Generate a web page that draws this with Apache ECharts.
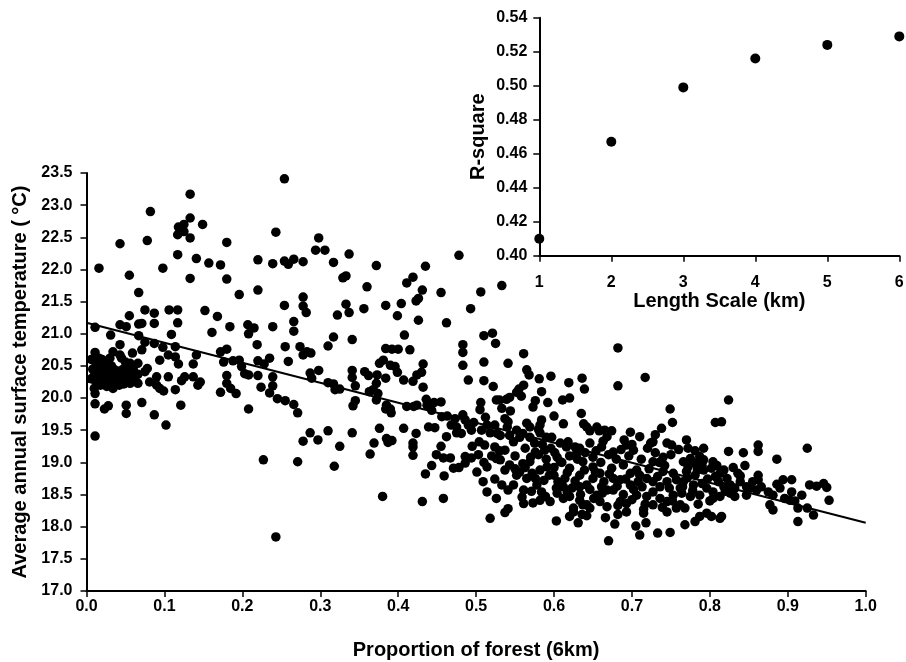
<!DOCTYPE html>
<html>
<head>
<meta charset="utf-8">
<script src="https://cdn.jsdelivr.net/npm/echarts@6/dist/echarts.min.js"></script>
<style>html,body{margin:0;padding:0;background:#fff}#c{width:906px;height:662px}</style>
</head>
<body>
<div id="c"></div>
<script>
// ---- data: proportion of forest (6km) vs annual surface temperature (°C) ----
const pointsLowForest = [
[0.133,23.17],[0.082,22.90],[0.133,22.80],[0.149,22.70],[0.125,22.70],[0.118,22.66],[0.125,22.59],[0.117,22.54],[0.133,22.49],[0.078,22.45],[0.043,22.40],[0.180,22.42],[0.243,22.58],[0.117,22.23],[0.141,22.17],[0.157,22.10],[0.172,22.07],[0.220,22.15],[0.239,22.09],[0.016,22.02],[0.055,21.91],[0.098,22.02],[0.133,21.86],[0.180,21.85],[0.067,21.64],[0.196,21.61],[0.220,21.68],
[0.075,21.37],[0.106,21.37],[0.117,21.37],[0.152,21.36],[0.055,21.28],[0.087,21.32],[0.168,21.27],
[0.011,21.10],[0.043,21.14],[0.051,21.11],[0.067,21.15],[0.071,21.16],[0.087,21.16],[0.117,21.17],[0.031,20.98],[0.067,20.97],[0.109,20.99],[0.161,21.02],[0.184,21.11],[0.207,21.14],[0.215,21.09],[0.208,21.00],[0.239,21.11],
[0.075,20.87],[0.087,20.85],[0.098,20.79],[0.114,20.80],[0.043,20.83],[0.219,20.83],[0.011,20.71],[0.034,20.72],[0.043,20.67],[0.059,20.70],[0.071,20.75],[0.105,20.67],[0.114,20.64],[0.094,20.59],[0.141,20.67],[0.172,20.72],[0.180,20.76],[0.188,20.58],[0.196,20.59],[0.220,20.58],[0.228,20.53],[0.235,20.62],
[0.056,20.54],[0.066,20.54],[0.075,20.41],[0.078,20.46],[0.118,20.53],[0.137,20.53],[0.176,20.56],[0.199,20.49],[0.239,20.33],[0.239,20.19],[0.056,20.33],[0.066,20.37],[0.056,20.23],[0.066,20.23],[0.081,20.25],[0.090,20.33],[0.090,20.20],[0.099,20.11],[0.105,20.33],[0.094,20.15],[0.114,20.13],[0.122,20.27],[0.126,20.33],[0.137,20.33],[0.143,20.20],[0.146,20.25],[0.180,20.35],[0.180,20.23],[0.185,20.15],[0.192,20.07],[0.203,20.38],[0.208,20.36],[0.220,20.35],[0.224,20.17],[0.235,20.08],[0.245,19.99],[0.172,20.09],[0.208,19.83],
[0.011,20.07],[0.011,19.91],[0.023,19.83],[0.028,19.88],[0.051,19.89],[0.051,19.76],[0.071,19.93],[0.087,19.74],[0.121,19.89],[0.102,19.58],[0.011,19.41],
[0.227,19.04],[0.243,17.84],
[0.008,20.45],[0.010,20.35],[0.012,20.25],[0.012,20.55],[0.014,20.40],[0.015,20.30],[0.016,20.50],[0.018,20.20],[0.018,20.42],[0.020,20.60],[0.020,20.33],[0.022,20.47],[0.023,20.27],[0.024,20.38],[0.025,20.55],[0.026,20.18],[0.027,20.44],[0.028,20.32],[0.030,20.62],[0.030,20.24],[0.031,20.40],[0.032,20.50],[0.033,20.30],[0.034,20.15],[0.035,20.45],[0.036,20.36],[0.038,20.25],[0.040,20.42],[0.040,20.33],[0.042,20.20],[0.044,20.28],[0.045,20.62],[0.046,20.38],[0.047,20.45],[0.048,20.22],[0.050,20.32],[0.052,20.48],[0.055,20.40],[0.058,20.28],[0.060,20.45],[0.062,20.36],[0.050,20.56],[0.028,20.52],[0.016,20.62],[0.006,20.30],[0.006,20.60],[0.010,20.15]
];
const pointsMidForest = [
[0.254,23.41],[0.298,22.49],[0.294,22.30],[0.306,22.30],[0.337,22.24],[0.254,22.13],[0.259,22.08],[0.266,22.16],[0.278,22.12],[0.317,22.11],[0.372,22.06],[0.478,22.22],[0.435,22.05],[0.329,21.87],[0.333,21.90],[0.419,21.88],[0.411,21.79],[0.360,21.73],[0.431,21.68],[0.455,21.64],[0.278,21.57],[0.426,21.55],[0.423,21.51],[0.254,21.44],[0.278,21.43],[0.333,21.46],[0.356,21.39],[0.384,21.44],[0.404,21.47],[0.493,21.39],
[0.282,21.33],[0.322,21.29],[0.337,21.33],[0.399,21.28],[0.426,21.21],[0.462,21.17],[0.266,21.19],[0.266,21.04],[0.317,20.95],[0.310,20.81],[0.341,20.91],[0.408,20.98],[0.483,20.83],[0.483,20.71],[0.483,20.51],[0.255,20.80],[0.274,20.80],[0.278,20.67],[0.283,20.72],[0.288,20.70],[0.384,20.77],[0.392,20.76],[0.400,20.76],[0.415,20.75],[0.259,20.57],[0.376,20.54],[0.381,20.59],[0.390,20.51],[0.396,20.49],[0.399,20.40],[0.432,20.53],[0.430,20.40],[0.298,20.43],[0.287,20.39],[0.289,20.31],[0.341,20.43],[0.341,20.32],[0.357,20.41],[0.362,20.35],[0.373,20.36],[0.372,20.23],[0.384,20.31],[0.407,20.28],[0.424,20.36],[0.419,20.26],[0.490,20.28],[0.432,20.17],[0.310,20.24],[0.317,20.22],[0.319,20.13],[0.325,20.14],[0.345,20.19],[0.363,20.10],[0.368,20.13],[0.374,20.07],[0.372,19.97],[0.255,19.96],[0.266,19.90],[0.271,19.77],[0.345,19.96],[0.342,19.88],[0.385,19.89],[0.390,19.83],[0.384,19.83],[0.391,19.77],[0.411,19.87],[0.420,19.87],[0.424,19.89],[0.436,19.98],[0.437,19.89],[0.446,19.93],[0.455,19.94],[0.443,19.81],[0.456,19.71],[0.463,19.72],[0.473,19.68],[0.483,19.74],[0.486,19.66],[0.490,19.58],[0.475,19.55],[0.475,19.46],[0.494,19.50],[0.287,19.46],[0.278,19.33],[0.297,19.35],[0.310,19.49],[0.325,19.25],[0.341,19.46],[0.376,19.53],[0.369,19.30],[0.385,19.37],[0.392,19.34],[0.387,19.31],[0.407,19.53],[0.423,19.45],[0.419,19.30],[0.419,19.24],[0.439,19.55],[0.447,19.54],[0.449,19.12],[0.458,19.07],[0.467,19.07],[0.364,19.13],
[0.271,19.01],[0.318,18.94],[0.419,19.11],[0.486,19.09],[0.494,19.07],[0.443,18.95],[0.435,18.82],[0.459,18.79],[0.471,18.91],[0.478,18.92],[0.486,18.99],[0.380,18.47],[0.431,18.39],[0.458,18.44],
[0.462,19.40],[0.468,19.58],[0.481,19.45],[0.497,19.62],[0.495,19.25],[0.455,19.25]
];
const pointsHighForest = [
[0.506,21.65],[0.533,21.75],[0.503,19.12],[0.501,18.85],[0.504,19.32],
[0.510,20.97],[0.521,21.01],[0.525,20.85],[0.682,20.78],[0.561,20.69],[0.510,20.56],[0.541,20.54],[0.565,20.44],[0.568,20.36],[0.581,20.30],[0.596,20.34],[0.510,20.27],[0.522,20.18],[0.619,20.24],[0.636,20.31],[0.639,20.14],[0.682,20.19],[0.717,20.32],[0.561,20.20],[0.555,20.14],[0.552,20.09],[0.558,20.03],[0.584,20.10],[0.576,19.96],[0.573,19.86],[0.592,19.93],[0.611,19.97],[0.620,20.00],[0.526,19.97],[0.530,19.97],[0.539,19.98],[0.543,20.01],[0.533,19.84],[0.544,19.80],[0.506,19.93],[0.505,19.82],[0.635,19.76],[0.749,19.83],[0.752,19.62],[0.600,19.72],[0.537,19.68],[0.541,19.63],[0.524,19.58],[0.514,19.58],[0.565,19.61],[0.569,19.55],[0.584,19.66],[0.582,19.58],[0.580,19.51],[0.612,19.60],[0.638,19.60],[0.642,19.55],[0.646,19.49],[0.655,19.55],[0.658,19.49],[0.665,19.50],[0.674,19.49],[0.668,19.40],[0.698,19.47],[0.738,19.53],[0.730,19.43],[0.727,19.32],
[0.507,19.50],[0.518,19.46],[0.531,19.42],[0.543,19.42],[0.552,19.50],[0.556,19.39],[0.569,19.39],[0.582,19.46],[0.590,19.39],[0.597,19.39],[0.608,19.30],[0.616,19.24],[0.627,19.24],[0.633,19.22],[0.646,19.30],[0.661,19.24],[0.676,19.16],[0.693,19.27],[0.702,19.19],[0.745,19.30],[0.751,19.27],[0.511,19.27],[0.524,19.24],[0.537,19.19],[0.563,19.22],[0.576,19.16],[0.588,19.19],[0.601,19.15],
[0.518,18.13],[0.537,18.22],[0.541,18.28],[0.561,18.36],[0.573,18.37],[0.603,18.09],[0.631,18.06],[0.620,18.16],[0.625,18.23],[0.636,18.19],[0.642,18.17],[0.646,18.29],[0.637,18.34],[0.666,18.14],[0.678,18.04],[0.670,17.78],[0.682,18.19],[0.682,18.33],[0.693,18.36],[0.693,18.23],[0.705,18.01],[0.710,17.87],[0.718,18.06],[0.715,18.21],[0.715,18.27],[0.733,17.90],[0.749,17.91],[0.509,18.70],[0.524,18.74],[0.533,18.65],[0.541,18.57],[0.514,18.93],[0.526,19.06],[0.537,18.88],
[0.552,18.80],[0.565,18.75],[0.561,18.57],[0.578,18.65],[0.584,18.54],[0.576,18.75],[0.591,18.93],[0.600,18.80],[0.604,18.52],[0.612,18.44],[0.614,18.75],[0.623,18.60],[0.633,18.62],[0.642,18.65],[0.650,18.75],[0.655,18.49],[0.661,18.62],[0.668,18.57],[0.676,18.57],[0.676,18.75],[0.674,18.91],[0.685,18.73],[0.698,18.65],[0.706,18.49],[0.713,18.62],[0.719,18.47],[0.727,18.54],[0.736,18.44],[0.745,18.39],[0.753,18.49],[0.745,18.70],[0.727,18.70],[0.710,18.80],[0.706,18.88],[0.727,19.01],[0.740,18.86],[0.753,18.83],
[0.531,19.04],[0.543,18.96],[0.569,19.01],[0.582,18.88],[0.608,19.01],[0.620,18.91],[0.633,18.80],[0.637,19.01],[0.650,18.93],[0.659,18.83],[0.689,18.96],[0.698,18.83],[0.719,18.75],[0.736,18.62],[0.633,18.41],[0.642,18.34],[0.659,18.39],[0.668,18.31],[0.685,18.39],[0.727,18.34],[0.745,18.23],[0.595,18.39],[0.526,18.44],[0.514,18.54],[0.620,18.47],[0.625,18.29],[0.612,18.62],[0.582,18.41],[0.548,18.65],
[0.690,19.35],[0.700,19.28],[0.710,19.40],[0.720,19.22],[0.730,19.15],[0.740,19.08],[0.680,19.05],[0.670,19.12],[0.660,19.00],[0.650,19.08],[0.640,19.15],[0.630,19.05],[0.620,19.10],[0.610,19.00],[0.600,18.92],[0.590,19.05],[0.580,19.12],[0.570,19.08],[0.560,18.98],[0.550,19.10],[0.550,18.90],[0.530,19.18],[0.520,19.10],[0.510,19.00],
[0.556,18.85],[0.563,18.92],[0.572,18.83],[0.587,18.72],[0.594,18.80],[0.605,18.70],[0.617,18.84],[0.627,18.71],[0.639,18.88],[0.646,18.58],[0.653,18.85],[0.664,18.70],[0.671,18.82],[0.681,18.63],[0.692,18.74],[0.702,18.58],[0.708,18.70],[0.722,18.90],[0.733,18.78],[0.742,18.95],[0.748,18.60],[0.596,19.22],[0.604,19.08],[0.618,19.32],[0.629,19.14],[0.654,19.18],[0.663,19.33],[0.686,19.20],[0.696,19.10],[0.712,19.05],[0.724,19.30],[0.735,19.00],[0.559,18.46],[0.571,18.55],[0.589,18.47],[0.603,18.60],[0.617,18.53],[0.634,18.50],[0.651,18.44],[0.662,18.52],[0.689,18.50],[0.700,18.42],[0.717,18.35],[0.739,18.30],
[0.512,19.70],[0.527,19.45],[0.540,19.55],[0.548,19.32],[0.560,19.45],[0.575,19.30],[0.585,19.28]
];
const pointsVeryHighForest = [
[0.757,18.29],[0.762,18.60],[0.750,19.12],[0.760,19.20],[0.770,19.35],[0.780,19.00],[0.790,18.95],[0.757,18.73],[0.752,18.40],
[0.824,19.97],[0.807,19.62],[0.815,19.63],[0.772,19.22],[0.781,19.18],[0.792,19.22],[0.824,19.17],[0.843,19.15],[0.862,19.27],[0.862,19.17],[0.925,19.22],
[0.886,19.05],[0.830,18.92],[0.839,18.79],[0.862,18.73],[0.894,18.73],[0.905,18.73],[0.886,18.66],[0.890,18.60],[0.905,18.54],[0.918,18.49],[0.928,18.65],[0.937,18.63],[0.946,18.67],[0.950,18.61],[0.953,18.41],[0.852,18.60],[0.860,18.57],[0.847,18.49],[0.875,18.54],[0.881,18.49],[0.877,18.34],[0.881,18.26],[0.896,18.44],[0.903,18.41],[0.909,18.40],[0.913,18.29],[0.925,18.29],[0.933,18.18],[0.913,18.08],[0.862,18.80],[0.804,18.44],[0.813,18.47],[0.785,18.35],[0.768,18.03],[0.781,18.08],[0.787,18.16],[0.796,18.21],[0.802,18.16],[0.813,18.13],[0.815,18.16],[0.832,18.47],[0.826,18.52],
[0.766,19.01],[0.775,19.06],[0.783,18.96],[0.792,19.04],[0.770,18.86],[0.781,18.80],[0.792,18.88],[0.766,18.70],[0.779,18.65],[0.790,18.67],[0.796,18.60],[0.807,18.78],[0.813,18.83],[0.818,18.88],[0.822,18.75],[0.811,18.70],[0.826,18.65],[0.832,18.60],[0.818,18.62],[0.804,18.54],[0.775,18.47],[0.764,18.52],[0.787,18.49],[0.768,18.29],[0.762,18.34],[0.839,18.70],[0.847,18.62],[0.802,18.91],[0.787,19.09],[0.772,18.93],[0.804,19.01],
[0.771,18.76],[0.784,18.88],[0.797,18.74],[0.809,18.95],[0.820,18.55],[0.836,18.83],[0.845,18.95],[0.855,18.70],[0.866,18.62],[0.800,18.40],[0.778,18.56],[0.765,18.62]
];
// linear fit (end points)
const fitForest = [0, 1];
const fitTemp = [21.17, 18.06];
// inset: R-square vs length scale
const lengthScaleKm = [1, 2, 3, 4, 5, 6];
const rSquare = [0.410, 0.467, 0.499, 0.516, 0.524, 0.529];

const FONT = "'Liberation Sans', Arial, sans-serif";
const labelStyle = {color:'#000', fontFamily:FONT, fontWeight:'bold', fontSize:16};
const nameStyle = {color:'#000', fontFamily:FONT, fontWeight:'bold', fontSize:20};
const lineStyle = {color:'#000', width:2};
const tickStyle = {color:'#000', width:1.5};

const chart = echarts.init(document.getElementById('c'), null, {renderer:'canvas'});
chart.setOption({
  animation:false,
  backgroundColor:'#fff',
  grid:[
    {left:86.5, right:40.3, top:173, bottom:71, containLabel:false, outerBoundsMode:'none'},
    {left:539.3, right:6.7, top:17.7, bottom:406.3, containLabel:false, outerBoundsMode:'none'}
  ],
  xAxis:[
    {gridIndex:0, type:'value', min:0, max:1, interval:0.1,
     name:'Proportion of forest (6km)', nameLocation:'middle', nameGap:49, nameTextStyle:nameStyle,
     axisLine:{lineStyle:lineStyle}, axisTick:{length:6, lineStyle:tickStyle},
     axisLabel:Object.assign({margin:8, formatter:v=>v.toFixed(1)}, labelStyle), splitLine:{show:false}},
    {gridIndex:1, type:'value', min:1, max:6, interval:1,
     name:'Length Scale (km)', nameLocation:'middle', nameGap:35, nameTextStyle:nameStyle,
     axisLine:{lineStyle:lineStyle}, axisTick:{length:6, lineStyle:tickStyle},
     axisLabel:Object.assign({margin:19, formatter:v=>String(v)}, labelStyle), splitLine:{show:false}}
  ],
  yAxis:[
    {gridIndex:0, type:'value', min:17, max:23.5, interval:0.5,
     name:'Average annual surface temperature ( °C)', nameLocation:'middle', nameGap:56, nameTextStyle:nameStyle,
     axisLine:{lineStyle:lineStyle}, axisTick:{length:6, lineStyle:tickStyle},
     axisLabel:Object.assign({margin:14, formatter:v=>v.toFixed(1)}, labelStyle), splitLine:{show:false}},
    {gridIndex:1, type:'value', min:0.40, max:0.54, interval:0.02,
     name:'R-square', nameLocation:'middle', nameGap:51, nameTextStyle:nameStyle,
     axisLine:{lineStyle:lineStyle}, axisTick:{length:6, lineStyle:tickStyle},
     axisLabel:Object.assign({margin:12, formatter:v=>v.toFixed(2)}, labelStyle), splitLine:{show:false}}
  ],
  series:[
    {type:'scatter', xAxisIndex:0, yAxisIndex:0, symbol:'circle', symbolSize:9.5, itemStyle:{color:'#000', opacity:1},
     data:[].concat(pointsLowForest, pointsMidForest, pointsHighForest, pointsVeryHighForest)},
    {type:'line', xAxisIndex:0, yAxisIndex:0, showSymbol:false, symbol:'none', lineStyle:{color:'#000', width:2},
     data:fitForest.map((x,i)=>[x, fitTemp[i]]), z:3},
    {type:'scatter', xAxisIndex:1, yAxisIndex:1, symbol:'circle', symbolSize:10, itemStyle:{color:'#000', opacity:1},
     data:lengthScaleKm.map((x,i)=>[x, rSquare[i]]), clip:false}
  ]
});
</script>
</body>
</html>
